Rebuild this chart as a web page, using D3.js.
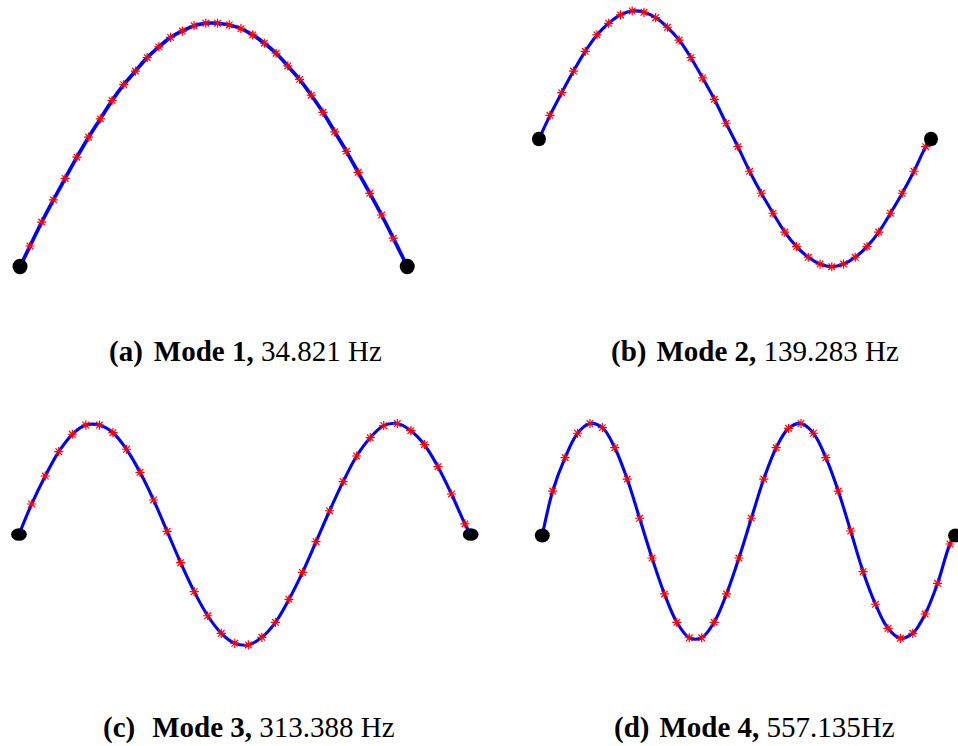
<!DOCTYPE html>
<html>
<head>
<meta charset="utf-8">
<script src="https://cdn.jsdelivr.net/npm/d3@7"></script>
<style>
  body { margin: 0; background: #fff; }
  svg { display: block; }
</style>
</head>
<body>
<div id="chart"></div>
<script>
const captionTags = ["(a)", "(b)", "(c)", "(d)"];
const captionModes = ["Mode 1,", "Mode 2,", "Mode 3,", "Mode 4,"];
const captionFreqs = ["34.821 Hz", "139.283 Hz", "313.388 Hz", "557.135Hz"];

// normalised displacement read at the marker stations 1..n
const mode1 = [0.084, 0.182, 0.273, 0.361, 0.448, 0.530, 0.605, 0.680, 0.745, 0.801,
               0.856, 0.900, 0.939, 0.965, 0.987, 0.997, 0.997, 0.990, 0.975, 0.949,
               0.915, 0.874, 0.822, 0.767, 0.702, 0.632, 0.552, 0.472, 0.386, 0.300,
               0.211, 0.116];
const mode2 = [0.185, 0.362, 0.531, 0.685, 0.813, 0.904, 0.969, 1.000, 0.990, 0.948,
               0.873, 0.773, 0.635, 0.477, 0.310, 0.123, -0.060, -0.252, -0.424, -0.580,
               -0.727, -0.841, -0.924, -0.977, -0.998, -0.977, -0.924, -0.841, -0.727, -0.580,
               -0.424, -0.252, -0.060];
const mode3 = [0.275, 0.527, 0.746, 0.903, 0.986, 0.986, 0.917, 0.768, 0.560, 0.311,
               0.029, -0.254, -0.515, -0.732, -0.890, -0.980, -0.995, -0.926, -0.791, -0.584,
               -0.341, -0.065, 0.214, 0.476, 0.707, 0.872, 0.980, 1.000, 0.935, 0.809,
               0.611, 0.365, 0.095];
const mode4 = [0.397, 0.695, 0.913, 1.000, 0.963, 0.784, 0.504, 0.154, -0.201, -0.522,
               -0.775, -0.913, -0.913, -0.775, -0.522, -0.201, 0.154, 0.504, 0.784, 0.957,
               1.000, 0.913, 0.695, 0.397, 0.040, -0.323, -0.614, -0.829, -0.918, -0.873,
               -0.701, -0.427, -0.076];
// support (end) positions in station units: [left, right]
const supports = [[0.15, 33.19], [0.06, 33.45], [0.06, 33.42], [0.16, 33.45]];

const modes = [mode1, mode2, mode3, mode4];

// pixel frame of every panel
const panels = [
  { x0: 30,    x1: 393.3, top: 22.5,  bottom: 510.5, rx: 7.5, ry: 7.8, lw: 3.7, capX: 109, capY: 361, gap: 11 },
  { x0: 550,   x1: 925.7, top: 11,    bottom: 267,   rx: 7,   ry: 7.3, lw: 3.1, capX: 611, capY: 361, gap: 10 },
  { x0: 31.7,  x1: 465,   top: 423.5, bottom: 645.5, rx: 7.9, ry: 6.3, lw: 3.1, capX: 103, capY: 737, gap: 17 },
  { x0: 552.7, x1: 950,   top: 423.5, bottom: 647.5, rx: 7.5, ry: 6.9, lw: 3.1, capX: 614, capY: 737, gap: 10 }
];

const W = 958, H = 746;

const svg = d3.select("#chart")
    .append("svg")
    .attr("width", W)
    .attr("height", H);

const star = "M-4.6,0H4.6M0,-4.6V4.6M-3.3,-3.3L3.3,3.3M-3.3,3.3L3.3,-3.3";

modes.forEach((vals, k) => {
    const p = panels[k];
    const x = d3.scaleLinear().domain([1, vals.length]).range([p.x0, p.x1]);
    const y = d3.scaleLinear().domain([-1, 1]).range([p.bottom, p.top]);

    const pts = vals.map((v, i) => [i + 1, v]);
    const ends = supports[k].map(s => [s, 0]);
    const all = [ends[0], ...pts, ends[1]];

    const g = svg.append("g").attr("class", "panel");

    const line = d3.line()
        .x(d => x(d[0]))
        .y(d => y(d[1]))
        .curve(d3.curveCatmullRom.alpha(0.5));

    g.append("path")
        .datum(all)
        .attr("fill", "none")
        .attr("stroke", "#0000ff")
        .attr("stroke-width", p.lw)
        .attr("stroke-linejoin", "round")
        .attr("d", line);

    g.selectAll(".mark")
        .data(pts)
        .enter()
        .append("path")
        .attr("class", "mark")
        .attr("transform", d => `translate(${x(d[0])},${y(d[1])})`)
        .attr("d", star)
        .attr("fill", "none")
        .attr("stroke", "#ff0000")
        .attr("stroke-width", 1.2);

    g.selectAll(".support")
        .data(ends)
        .enter()
        .append("ellipse")
        .attr("class", "support")
        .attr("cx", d => x(d[0]))
        .attr("cy", d => y(d[1]))
        .attr("rx", p.rx)
        .attr("ry", p.ry)
        .attr("fill", "#000");

    const cap = svg.append("text")
        .attr("x", p.capX)
        .attr("y", p.capY)
        .attr("font-family", "'Liberation Serif', 'Times New Roman', serif")
        .attr("font-size", 29)
        .attr("fill", "#000");
    cap.append("tspan").attr("font-weight", "bold").text(captionTags[k]);
    cap.append("tspan").attr("font-weight", "bold").attr("dx", p.gap).text(captionModes[k]);
    cap.append("tspan").text(" " + captionFreqs[k]);
});
</script>
</body>
</html>
